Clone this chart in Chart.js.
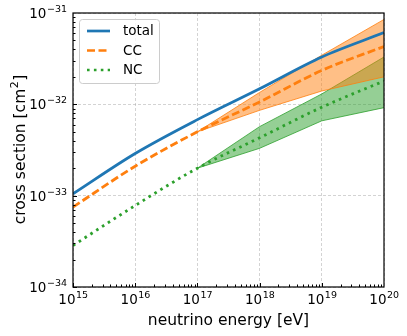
<!DOCTYPE html>
<html>
<head>
<meta charset="utf-8">
<script src="https://cdn.jsdelivr.net/npm/chart.js@4"></script>
<style>
  html, body { margin: 0; padding: 0; background: #fff; }
  #wrap { width: 407px; height: 336px; }
</style>
</head>
<body>
<div id="wrap"><canvas id="xsec"></canvas></div>
<script>
// values (eV, cm^2)
const energies = [1e15, 1e16, 1e17, 1e18, 1e19, 1e20];
const total = [1.05e-33, 2.9e-33, 6.8e-33, 1.48e-32, 3.3e-32, 6.1e-32];
const cc = [7.5e-34, 2.1e-33, 5.0e-33, 1.06e-32, 2.35e-32, 4.3e-32];
const nc = [2.85e-34, 7.8e-34, 2.0e-33, 4.3e-33, 9.3e-33, 1.8e-32];

// uncertainty bands, open up from 1e17
const bandEnergies = [1e17, 1e18, 1e19, 1e20];
const ccUpper = [5.0e-33, 1.35e-32, 3.45e-32, 8.5e-32];
const ccLower = [5.0e-33, 8.6e-33, 1.4e-32, 2.0e-32];
const ncUpper = [2.0e-33, 5.7e-33, 1.3e-32, 3.3e-32];
const ncLower = [2.0e-33, 3.3e-33, 6.6e-33, 9.2e-33];

const xTickExp = [15, 16, 17, 18, 19, 20];
const yTickExp = [-34, -33, -32, -31];

const seriesLabels = ['total', 'CC', 'NC'];

const BLUE = '#1f77b4', ORANGE = '#ff7f0e', GREEN = '#2ca02c';
const FONT = '"DejaVu Sans", sans-serif';

function pts(xs, ys) { return xs.map((x, i) => ({ x: x, y: ys[i] })); }

// matplotlib-ish frame, inward ticks, mathtext-style labels, legend
const decor = {
  id: 'decor',
  afterDraw(chart) {
    const { ctx, chartArea: a, scales: { x, y } } = chart;
    ctx.save();

    // minor + major ticks pointing in
    ctx.strokeStyle = '#000';
    ctx.lineWidth = 1;
    for (let e = 15; e < 20; e++) {
      for (let k = 1; k <= 9; k++) {
        const px = Math.round(x.getPixelForValue(k * Math.pow(10, e))) + 0.5;
        const len = k === 1 ? 4 : 2.5;
        ctx.beginPath(); ctx.moveTo(px, a.bottom); ctx.lineTo(px, a.bottom - len); ctx.stroke();
      }
    }
    for (let e = -34; e < -31; e++) {
      for (let k = 1; k <= 9; k++) {
        const py = Math.round(y.getPixelForValue(k * Math.pow(10, e))) + 0.5;
        const len = k === 1 ? 4 : 2.5;
        ctx.beginPath(); ctx.moveTo(a.left, py); ctx.lineTo(a.left + len, py); ctx.stroke();
      }
    }

    // frame
    ctx.strokeStyle = '#000';
    ctx.lineWidth = 1.2;
    ctx.strokeRect(a.left, a.top, a.right - a.left, a.bottom - a.top);

    // tick labels
    ctx.fillStyle = '#000';
    ctx.textBaseline = 'alphabetic';
    xTickExp.forEach(e => {
      const px = x.getPixelForValue(Math.pow(10, e));
      ctx.font = '13.5px ' + FONT;
      const wb = ctx.measureText('10').width;
      ctx.font = '9.5px ' + FONT;
      const we = ctx.measureText(String(e)).width;
      const x0 = px - (wb + we) / 2;
      ctx.font = '13.5px ' + FONT;
      ctx.textAlign = 'left';
      ctx.fillText('10', x0, a.bottom + 17);
      ctx.font = '9.5px ' + FONT;
      ctx.fillText(String(e), x0 + wb + 0.5, a.bottom + 11);
    });
    yTickExp.forEach(e => {
      const py = y.getPixelForValue(Math.pow(10, e));
      const exp = '\u2212' + String(-e);
      ctx.font = '9.5px ' + FONT;
      const we = ctx.measureText(exp).width;
      const xr = a.left - 6;
      ctx.textAlign = 'right';
      ctx.fillText(exp, xr, py - 1);
      ctx.font = '13.5px ' + FONT;
      ctx.fillText('10', xr - we - 0.5, py + 5);
    });

    // axis titles
    ctx.font = '15.5px ' + FONT;
    ctx.textAlign = 'center';
    ctx.textBaseline = 'middle';
    ctx.fillText('neutrino energy [eV]', (a.left + a.right) / 2, 321);

    // y title with a mathtext-like superscript
    ctx.save();
    ctx.translate(19, (a.top + a.bottom) / 2);
    ctx.rotate(-Math.PI / 2);
    const t1 = 'cross section [cm', t2 = '2', t3 = ']';
    ctx.font = '15.5px ' + FONT;
    const w1 = ctx.measureText(t1).width, w3 = ctx.measureText(t3).width;
    ctx.font = '11px ' + FONT;
    const w2 = ctx.measureText(t2).width;
    let sx = -(w1 + w2 + w3) / 2;
    ctx.textAlign = 'left';
    ctx.textBaseline = 'alphabetic';
    ctx.font = '15.5px ' + FONT;
    ctx.fillText(t1, sx, 5.5);
    ctx.font = '11px ' + FONT;
    ctx.fillText(t2, sx + w1 + 0.5, -1.5);
    ctx.font = '15.5px ' + FONT;
    ctx.fillText(t3, sx + w1 + w2 + 1, 5.5);
    ctx.restore();

    // legend box
    const bx = 79.5, by = 19.5, bw = 80, bh = 64, r = 3;
    ctx.beginPath();
    ctx.moveTo(bx + r, by);
    ctx.arcTo(bx + bw, by, bx + bw, by + bh, r);
    ctx.arcTo(bx + bw, by + bh, bx, by + bh, r);
    ctx.arcTo(bx, by + bh, bx, by, r);
    ctx.arcTo(bx, by, bx + bw, by, r);
    ctx.closePath();
    ctx.fillStyle = 'rgba(255,255,255,0.8)';
    ctx.fill();
    ctx.strokeStyle = '#cccccc';
    ctx.lineWidth = 1;
    ctx.stroke();

    const rows = [31, 50.5, 70];
    const styles = [
      { c: BLUE, d: [] },
      { c: ORANGE, d: [8, 3.5] },
      { c: GREEN, d: [2.6, 4.3] }
    ];
    seriesLabels.forEach((lab, i) => {
      ctx.strokeStyle = styles[i].c;
      ctx.lineWidth = 2.7;
      ctx.setLineDash(styles[i].d);
      ctx.beginPath(); ctx.moveTo(87, rows[i]); ctx.lineTo(110, rows[i]); ctx.stroke();
      ctx.setLineDash([]);
      ctx.fillStyle = '#000';
      ctx.font = '13.5px ' + FONT;
      ctx.textAlign = 'left';
      ctx.textBaseline = 'middle';
      ctx.fillText(lab, 123, rows[i] + 0.5);
    });

    ctx.restore();
  }
};

const majorX = xTickExp.map(e => ({ value: Math.pow(10, e) }));
const majorY = yTickExp.map(e => ({ value: Math.pow(10, e) }));

new Chart(document.getElementById('xsec'), {
  type: 'line',
  data: {
    datasets: [
      // NC band (drawn first, underneath)
      { data: pts(bandEnergies, ncLower), borderColor: GREEN, borderWidth: 0.8, order: 4,
        backgroundColor: 'rgba(44,160,44,0.5)', pointRadius: 0, fill: false, tension: 0 },
      { data: pts(bandEnergies, ncUpper), borderColor: GREEN, borderWidth: 0.8, order: 3,
        backgroundColor: 'rgba(44,160,44,0.5)', pointRadius: 0, fill: '-1', tension: 0 },
      // CC band
      { data: pts(bandEnergies, ccLower), borderColor: ORANGE, borderWidth: 0.8, order: 2,
        backgroundColor: 'rgba(255,127,14,0.5)', pointRadius: 0, fill: false, tension: 0 },
      { data: pts(bandEnergies, ccUpper), borderColor: ORANGE, borderWidth: 0.8, order: 1,
        backgroundColor: 'rgba(255,127,14,0.5)', pointRadius: 0, fill: '-1', tension: 0 },
      // central curves on top
      { label: 'total', data: pts(energies, total), borderColor: BLUE, borderWidth: 2.8, order: 0,
        pointRadius: 0, fill: false, cubicInterpolationMode: 'monotone' },
      { label: 'CC', data: pts(energies, cc), borderColor: ORANGE, borderWidth: 2.8, order: 0,
        borderDash: [8, 3.5], pointRadius: 0, fill: false, cubicInterpolationMode: 'monotone' },
      { label: 'NC', data: pts(energies, nc), borderColor: GREEN, borderWidth: 2.8, order: 0,
        borderDash: [2.6, 4.3], pointRadius: 0, fill: false, cubicInterpolationMode: 'monotone' }
    ]
  },
  options: {
    responsive: true,
    maintainAspectRatio: false,
    animation: false,
    layout: { padding: { left: 73, top: 13, right: 23, bottom: 49 } },
    plugins: { legend: { display: false }, tooltip: { enabled: false } },
    scales: {
      x: {
        type: 'logarithmic', min: 1e15, max: 1e20,
        afterBuildTicks: s => { s.ticks = majorX.slice(); },
        afterFit: s => { s.height = 0; },
        ticks: { display: false },
        border: { display: false, dash: [3, 2] },
        grid: { color: 'rgba(176,176,176,0.7)', lineWidth: 0.8, drawTicks: false }
      },
      y: {
        type: 'logarithmic', min: 1e-34, max: 1e-31,
        afterBuildTicks: s => { s.ticks = majorY.slice(); },
        afterFit: s => { s.width = 0; },
        ticks: { display: false },
        border: { display: false, dash: [3, 2] },
        grid: { color: 'rgba(176,176,176,0.7)', lineWidth: 0.8, drawTicks: false }
      }
    }
  },
  plugins: [decor]
});
</script>
</body>
</html>
